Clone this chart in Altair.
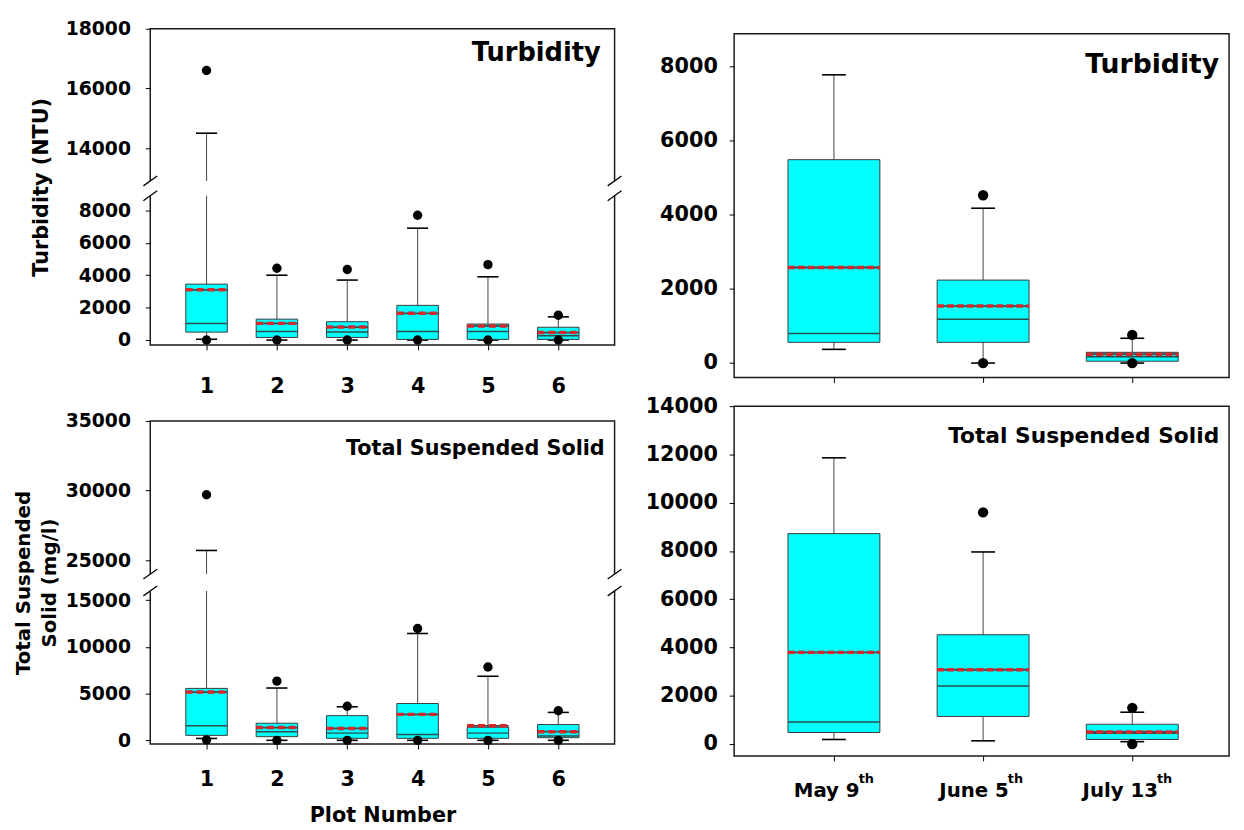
import altair as alt
import pandas as pd

# ---------------- data ----------------
plots = [1, 2, 3, 4, 5, 6]
date_pos = [1, 2, 3]
dates = ["May 9", "June 5", "July 13"]
date_sup = ["th", "th", "th"]

# Turbidity (NTU) by plot number
tp_wlo = [50, 0, 0, 0, 0, 0]
tp_q1 = [490, 160, 160, 40, 40, 40]
tp_med = [1020, 530, 500, 530, 530, 260]
tp_mean = [3100, 1030, 800, 1650, 870, 460]
tp_q3 = [3450, 1290, 1130, 2140, 990, 790]
tp_whi = [14500, 4000, 3700, 6900, 3900, 1430]
tp_out_pos = [1, 1, 2, 2, 3, 3, 4, 4, 5, 5, 6, 6]
tp_out_val = [16600, 0, 4430, 0, 4350, 0, 7700, 0, 4650, 0, 1530, 0]

# Total suspended solid (mg/l) by plot number
sp_wlo = [200, 0, 0, 0, 0, 0]
sp_q1 = [530, 390, 210, 210, 210, 280]
sp_med = [1550, 920, 770, 630, 770, 450]
sp_mean = [5170, 1370, 1270, 2780, 1550, 920]
sp_q3 = [5560, 1830, 2640, 3940, 1400, 1690]
sp_whi = [25700, 5600, 3590, 11440, 6860, 2990]
sp_out_pos = [1, 1, 2, 2, 3, 3, 4, 4, 5, 5, 6, 6]
sp_out_val = [29700, 50, 6340, 0, 3650, 0, 11970, 0, 7850, 0, 3170, 0]

# Turbidity by sampling date
td_wlo = [370, 0, 0]
td_q1 = [560, 560, 50]
td_med = [800, 1180, 170]
td_mean = [2580, 1540, 240]
td_q3 = [5490, 2240, 290]
td_whi = [7780, 4180, 670]
td_out_pos = [2, 2, 3, 3]
td_out_val = [4530, 0, 760, 0]

# Total suspended solid by sampling date
sd_wlo = [190, 135, 100]
sd_q1 = [480, 1145, 190]
sd_med = [910, 2410, 450]
sd_mean = [3800, 3080, 500]
sd_q3 = [8720, 4530, 820]
sd_whi = [11860, 7960, 1320]
sd_out_pos = [2, 3, 3]
sd_out_val = [9600, 1500, 0]

# axis tick values
tl_ticks = [0, 2000, 4000, 6000, 8000, 14000, 16000, 18000]
bl_ticks = [0, 5000, 10000, 15000, 25000, 30000, 35000]
tr_ticks = [0, 2000, 4000, 6000, 8000]
br_ticks = [0, 2000, 4000, 6000, 8000, 10000, 12000, 14000]

# ---------------- style ----------------
FONT = "DejaVu Sans"
CYAN = "#00FFFF"
EDGE = "#3a3a3a"
RED = "#d8262a"
FRAME = "#1a1a1a"


def panel(pos, wlo, q1, med, mean, q3, whi, out_pos, out_val, *, W, H, ydom, yrng,
          yticks, xdom, half_box, half_cap, dash, label, label_size, label_inset,
          label_y, ytick_size, ylabel_pad, xaxis, ytitle=None, ytitle_size=20,
          ytitle_pad=10, broken=False, dot_size=90, extra=None, frame_top=None):
    df = pd.DataFrame(dict(pos=pos, wlo=wlo, q1=q1, med=med, mean=mean, q3=q3, whi=whi))
    odf = pd.DataFrame(dict(pos=out_pos, val=out_val))
    ys = alt.Scale(domain=ydom, range=yrng, nice=False, zero=False)
    xs = alt.Scale(domain=xdom, nice=False, zero=False)
    yaxis = alt.Axis(values=yticks, format="d", labelFontSize=ytick_size,
                     tickSize=5, labelPadding=ylabel_pad, grid=False, domain=False,
                     title=ytitle if ytitle is not None else "",
                     titleFontSize=ytitle_size, titlePadding=ytitle_pad,
                     titleLineHeight=26)

    def X(f):
        return alt.X(f, scale=xs, axis=xaxis)

    def Y(f):
        return alt.Y(f, scale=ys, axis=yaxis)

    base = alt.Chart(df).transform_calculate(
        xl=f"datum.pos - {half_box}", xr=f"datum.pos + {half_box}",
        cl=f"datum.pos - {half_cap}", cr=f"datum.pos + {half_cap}")

    whisk = base.mark_rule(color="#555555", strokeWidth=1.1).encode(
        x=X("pos:Q"), y=Y("wlo:Q"), y2="whi:Q")
    caps = base.transform_fold(["wlo", "whi"], as_=["k", "v"]).mark_rule(
        color="black", strokeWidth=1.6).encode(x=X("cl:Q"), x2="cr:Q", y=Y("v:Q"))
    box = base.mark_rect(fill=CYAN, stroke=EDGE, strokeWidth=1).encode(
        x=X("xl:Q"), x2="xr:Q", y=Y("q1:Q"), y2="q3:Q")
    median = base.mark_rule(color="#2d4d4d", strokeWidth=1.5).encode(
        x=X("xl:Q"), x2="xr:Q", y=Y("med:Q"))
    mean_under = base.mark_rule(color="#3a4a4a", strokeWidth=1.8).encode(
        x=X("xl:Q"), x2="xr:Q", y=Y("mean:Q"))
    mean_red = base.mark_rule(color=RED, strokeWidth=3.5, strokeDash=dash).encode(
        x=X("xl:Q"), x2="xr:Q", y=Y("mean:Q"))
    layers = [whisk, caps, box, median, mean_under, mean_red]

    if broken:
        gdf = pd.DataFrame({"a": [ydom[1]], "b": [ydom[2]]})
        gap = alt.Chart(gdf).mark_rect(fill="white").encode(
            x=alt.value(-4), x2=alt.value(W + 4), y=Y("a:Q"), y2="b:Q")
        layers.append(gap)
        edf = pd.DataFrame({"e": [ydom[1], ydom[2]]})
        for side in (0, W):
            sl = alt.Chart(edf).mark_rule(color="black", strokeWidth=1.3,
                                          yOffset=5, y2Offset=-5).encode(
                x=alt.value(side - 7), x2=alt.value(side + 7), y=Y("e:Q"), y2="e:Q")
            layers.append(sl)

    dots = alt.Chart(odf).mark_circle(color="black", opacity=1, size=dot_size).encode(
        x=X("pos:Q"), y=Y("val:Q"))
    layers.append(dots)

    lab = alt.Chart(pd.DataFrame({"t": [label]})).mark_text(
        font=FONT, fontWeight="bold", fontSize=label_size, align="right",
        baseline="middle", color="black").encode(
        text="t:N", x=alt.value(W - label_inset), y=alt.value(label_y))
    layers.append(lab)
    if extra:
        layers.extend(extra(X))

    if frame_top is not None:
        fdf = pd.DataFrame({"lo": [ydom[0]], "hi": [frame_top]})
        frame = alt.Chart(fdf).mark_rect(filled=False, stroke=FRAME, strokeWidth=1.5).encode(
            x=alt.value(0), x2=alt.value(W), y=Y("lo:Q"), y2="hi:Q")
        layers.append(frame)
        return alt.layer(*layers).properties(
            width=W, height=H, view=alt.ViewBackground(stroke="transparent"))
    return alt.layer(*layers).properties(width=W, height=H)


# ---------------- left column (broken axes) ----------------
WL = 470
x_left = [0.2, 6.8]

tl = panel(plots, tp_wlo, tp_q1, tp_med, tp_mean, tp_q3, tp_whi, tp_out_pos, tp_out_val,
           W=WL, H=320, ydom=[-300, 8900, 12900, 18000], yrng=[320, 169, 154, 0],
           yticks=tl_ticks, xdom=x_left, half_box=0.295, half_cap=0.15, dash=[7, 4],
           label="Turbidity", label_size=26, label_inset=14, label_y=25, ytick_size=19,
           ylabel_pad=15,
           xaxis=alt.Axis(values=plots, format="d", labelFontSize=21, labelPadding=26,
                          tickSize=5, grid=False, domain=False, title=""),
           ytitle="Turbidity (NTU)", ytitle_size=21, ytitle_pad=14, broken=True)

bl = panel(plots, sp_wlo, sp_q1, sp_med, sp_mean, sp_q3, sp_whi, sp_out_pos, sp_out_val,
           W=WL, H=327, ydom=[-400, 16000, 24000, 35000], yrng=[327, 172, 155, 0],
           yticks=bl_ticks, xdom=x_left, half_box=0.295, half_cap=0.15, dash=[7, 4],
           label="Total Suspended Solid", label_size=21, label_inset=10, label_y=28,
           ytick_size=19, ylabel_pad=15,
           xaxis=alt.Axis(values=plots, format="d", labelFontSize=21, labelPadding=20,
                          tickSize=5, grid=False, domain=False, title="Plot Number",
                          titleFontSize=21, titlePadding=15),
           ytitle=["Total Suspended", "Solid (mg/l)"], ytitle_size=20, ytitle_pad=6,
           broken=True)

# ---------------- right column ----------------
WR = 501
x_right = [0.331, 3.649]


def date_labels(X):
    dl = pd.DataFrame({"pos": date_pos, "lab": dates, "sup": date_sup})
    main = alt.Chart(dl).mark_text(font=FONT, fontWeight="bold", fontSize=20,
                                   align="right", baseline="middle", dx=26,
                                   color="black").encode(
        x=X("pos:Q"), y=alt.value(354 + 36), text="lab:N")
    sup = alt.Chart(dl).mark_text(font=FONT, fontWeight="bold", fontSize=13,
                                  align="left", baseline="middle", dx=25,
                                  color="black").encode(
        x=X("pos:Q"), y=alt.value(354 + 23), text="sup:N")
    return [main, sup]


# top-right panel: its plot area starts 5 px above the drawn frame
tr = panel(date_pos, td_wlo, td_q1, td_med, td_mean, td_q3, td_whi, td_out_pos, td_out_val,
           W=WR, H=353, ydom=[-390, 9023], yrng=[353, 0], yticks=tr_ticks, xdom=x_right,
           half_box=0.308, half_cap=0.08, dash=[7, 3], label="Turbidity", label_size=27,
           label_inset=10, label_y=37, ytick_size=21, ylabel_pad=12,
           xaxis=alt.Axis(values=date_pos, labels=False, tickSize=5, grid=False,
                          domain=False, title=""),
           dot_size=110, frame_top=8890)

br = panel(date_pos, sd_wlo, sd_q1, sd_med, sd_mean, sd_q3, sd_whi, sd_out_pos, sd_out_val,
           W=WR, H=354, ydom=[-490, 14000], yrng=[354, 0], yticks=br_ticks, xdom=x_right,
           half_box=0.308, half_cap=0.08, dash=[7, 3], label="Total Suspended Solid",
           label_size=22, label_inset=10, label_y=30, ytick_size=21, ylabel_pad=12,
           xaxis=alt.Axis(values=date_pos, labels=False, tickSize=5, grid=False,
                          domain=False, title=""),
           dot_size=110, extra=date_labels)

left = alt.vconcat(tl, bl, spacing=77, bounds="flush")
right = alt.vconcat(tr, br, spacing=29, bounds="flush")

chart = alt.hconcat(left, right, spacing=21).properties(
    padding={"left": 5, "top": 6, "right": 5, "bottom": 2},
    background="white"
).configure_view(
    stroke=FRAME, strokeWidth=1.5
).configure_axis(
    labelFont=FONT, labelFontWeight="bold", labelColor="black",
    titleFont=FONT, titleFontWeight="bold", titleColor="black",
    tickColor="black", tickWidth=1
)

chart.save("out.html", embed_options={"renderer": "svg", "actions": False})
